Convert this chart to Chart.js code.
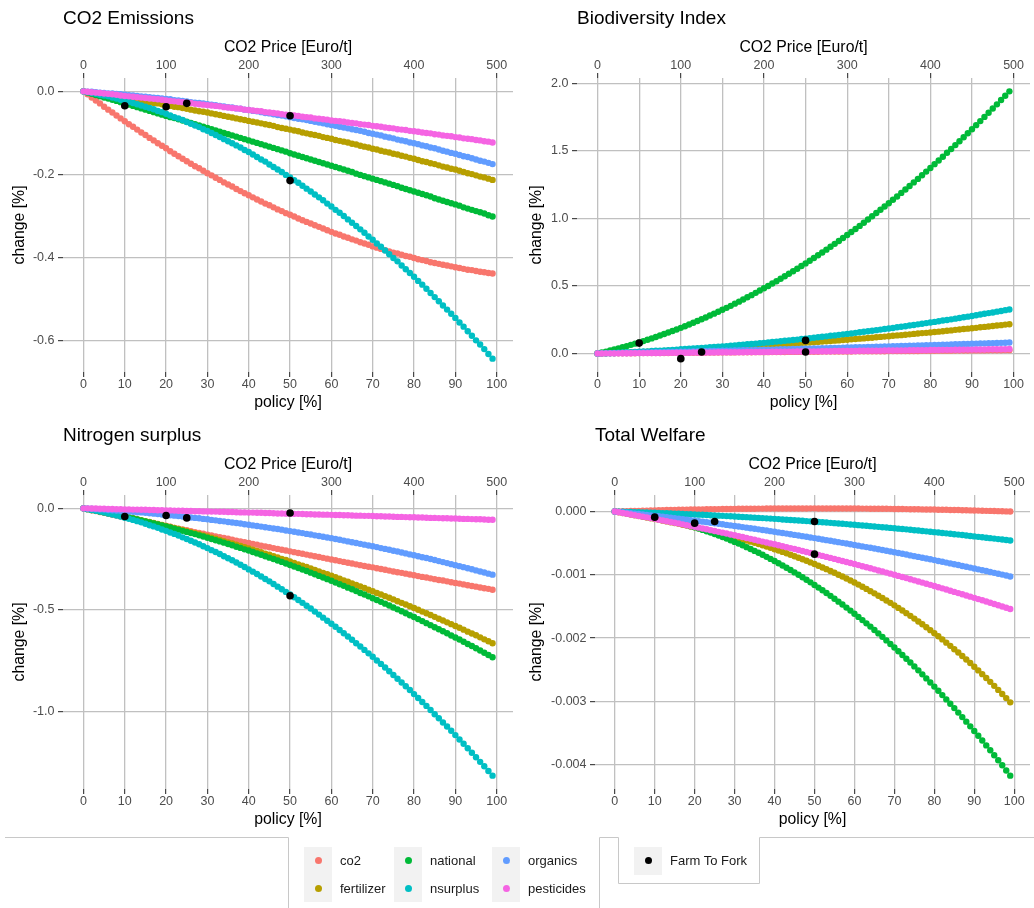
<!DOCTYPE html>
<html>
<head>
<meta charset="utf-8">
<script src="https://cdn.jsdelivr.net/npm/chart.js@4.4.1/dist/chart.umd.min.js"></script>
<style>
  body { margin: 0; background: #fff; font-family: "Liberation Sans", Arial, Helvetica, sans-serif; }
  #page { position: relative; width: 1034px; height: 908px; overflow: hidden; background: #fff; }
  .panel { position: absolute; width: 517px; height: 417px; }
  .key { position: absolute; width: 28px; height: 27.5px; background: #f2f2f2; }
  .dot { position: absolute; width: 7px; height: 7px; border-radius: 50%; left: 10.5px; top: 10.25px; }
  .lab { position: absolute; height: 27.5px; line-height: 27.5px; font-size: 13px; color: #1a1a1a; white-space: nowrap; }
</style>
</head>
<body>
<div id="page">
  <div class="panel" style="left:0;top:0"><canvas id="emissions" width="517" height="417"></canvas></div>
  <div class="panel" style="left:517px;top:0"><canvas id="biodiversity" width="517" height="417"></canvas></div>
  <div class="panel" style="left:0;top:417px"><canvas id="nitrogen" width="517" height="417"></canvas></div>
  <div class="panel" style="left:517px;top:417px"><canvas id="welfare" width="517" height="417"></canvas></div>
  <svg width="1034" height="908" style="position:absolute;left:0;top:0">
    <polyline points="5,837.5 288.5,837.5 288.5,908" fill="none" stroke="#c8c8c8" stroke-width="1"/>
    <polyline points="599.5,908 599.5,837.5 618.5,837.5 618.5,883.5 759.5,883.5 759.5,837.5 1034,837.5" fill="none" stroke="#c8c8c8" stroke-width="1"/>
  </svg>
  <div id="legend"></div>
</div>
<script>
// ---- data ----
const seriesNames = ['co2', 'fertilizer', 'national', 'nsurplus', 'organics', 'pesticides'];
const seriesColors = ['#F8766D', '#B79F00', '#00BA38', '#00BFC4', '#619CFF', '#F564E3'];

// policy [%]
const policy = [
  0, 1, 2, 3, 4, 5, 6, 7, 8, 9,
  10, 11, 12, 13, 14, 15, 16, 17, 18, 19,
  20, 21, 22, 23, 24, 25, 26, 27, 28, 29,
  30, 31, 32, 33, 34, 35, 36, 37, 38, 39,
  40, 41, 42, 43, 44, 45, 46, 47, 48, 49,
  50, 51, 52, 53, 54, 55, 56, 57, 58, 59,
  60, 61, 62, 63, 64, 65, 66, 67, 68, 69,
  70, 71, 72, 73, 74, 75, 76, 77, 78, 79,
  80, 81, 82, 83, 84, 85, 86, 87, 88, 89,
  90, 91, 92, 93, 94, 95, 96, 97, 98, 99
];
const f2fPolicy = [10, 20, 25, 50, 50];
const pricePerPolicy = 5; // 100 % policy = 500 Euro/t

const policyTicks = [0, 10, 20, 30, 40, 50, 60, 70, 80, 90, 100];
const priceTicks = [0, 100, 200, 300, 400, 500];
const emisTicks = [0, -0.2, -0.4, -0.6];
const bioTicks = [0, 0.5, 1, 1.5, 2];
const nitroTicks = [0, -0.5, -1];
const welfTicks = [0, -0.001, -0.002, -0.003, -0.004];

// CO2 Emissions
const emisCo2 = [
  0, -0.007, -0.015, -0.022, -0.029, -0.037, -0.044, -0.051, -0.058, -0.065,
  -0.072, -0.079, -0.085, -0.092, -0.099, -0.105, -0.112, -0.118, -0.125, -0.131,
  -0.137, -0.144, -0.150, -0.156, -0.162, -0.168, -0.174, -0.180, -0.185, -0.191,
  -0.197, -0.202, -0.208, -0.213, -0.219, -0.224, -0.229, -0.235, -0.240, -0.245,
  -0.250, -0.255, -0.260, -0.265, -0.270, -0.274, -0.279, -0.284, -0.288, -0.293,
  -0.297, -0.301, -0.306, -0.310, -0.314, -0.318, -0.322, -0.326, -0.330, -0.334,
  -0.338, -0.342, -0.345, -0.349, -0.352, -0.356, -0.359, -0.363, -0.366, -0.369,
  -0.373, -0.376, -0.379, -0.382, -0.385, -0.388, -0.390, -0.393, -0.396, -0.398,
  -0.401, -0.404, -0.406, -0.408, -0.411, -0.413, -0.415, -0.417, -0.419, -0.421,
  -0.423, -0.425, -0.427, -0.429, -0.430, -0.432, -0.434, -0.435, -0.437, -0.438
];
const emisFert = [
  0, -0.002, -0.003, -0.005, -0.006, -0.008, -0.009, -0.011, -0.013, -0.014,
  -0.016, -0.018, -0.019, -0.021, -0.023, -0.024, -0.026, -0.028, -0.029, -0.031,
  -0.033, -0.035, -0.037, -0.038, -0.040, -0.042, -0.044, -0.046, -0.048, -0.049,
  -0.051, -0.053, -0.055, -0.057, -0.059, -0.061, -0.063, -0.065, -0.067, -0.069,
  -0.071, -0.073, -0.075, -0.077, -0.079, -0.081, -0.083, -0.086, -0.088, -0.090,
  -0.092, -0.094, -0.096, -0.099, -0.101, -0.103, -0.105, -0.107, -0.110, -0.112,
  -0.114, -0.117, -0.119, -0.121, -0.123, -0.126, -0.128, -0.131, -0.133, -0.135,
  -0.138, -0.140, -0.143, -0.145, -0.147, -0.150, -0.152, -0.155, -0.157, -0.160,
  -0.162, -0.165, -0.168, -0.170, -0.173, -0.175, -0.178, -0.181, -0.183, -0.186,
  -0.188, -0.191, -0.194, -0.197, -0.199, -0.202, -0.205, -0.207, -0.210, -0.213
];
const emisNat = [
  0, -0.003, -0.006, -0.009, -0.012, -0.015, -0.017, -0.020, -0.023, -0.026,
  -0.029, -0.032, -0.035, -0.038, -0.041, -0.044, -0.047, -0.050, -0.053, -0.056,
  -0.059, -0.062, -0.064, -0.067, -0.070, -0.073, -0.076, -0.079, -0.082, -0.085,
  -0.088, -0.091, -0.094, -0.097, -0.100, -0.103, -0.106, -0.109, -0.112, -0.115,
  -0.118, -0.121, -0.124, -0.127, -0.130, -0.133, -0.136, -0.139, -0.142, -0.145,
  -0.149, -0.152, -0.155, -0.158, -0.161, -0.164, -0.167, -0.170, -0.173, -0.176,
  -0.179, -0.182, -0.185, -0.188, -0.191, -0.194, -0.198, -0.201, -0.204, -0.207,
  -0.210, -0.213, -0.216, -0.219, -0.222, -0.225, -0.228, -0.232, -0.235, -0.238,
  -0.241, -0.244, -0.247, -0.250, -0.253, -0.257, -0.260, -0.263, -0.266, -0.269,
  -0.272, -0.275, -0.279, -0.282, -0.285, -0.288, -0.291, -0.294, -0.298, -0.301
];
const emisNsur = [
  0, -0.002, -0.004, -0.006, -0.008, -0.010, -0.012, -0.015, -0.017, -0.020,
  -0.022, -0.025, -0.028, -0.031, -0.034, -0.037, -0.040, -0.043, -0.047, -0.050,
  -0.054, -0.058, -0.062, -0.065, -0.069, -0.074, -0.078, -0.082, -0.086, -0.091,
  -0.095, -0.100, -0.105, -0.110, -0.115, -0.120, -0.125, -0.130, -0.135, -0.141,
  -0.146, -0.152, -0.158, -0.164, -0.169, -0.176, -0.182, -0.188, -0.194, -0.201,
  -0.207, -0.214, -0.220, -0.227, -0.234, -0.241, -0.248, -0.255, -0.262, -0.270,
  -0.277, -0.285, -0.292, -0.300, -0.308, -0.316, -0.324, -0.332, -0.340, -0.349,
  -0.357, -0.366, -0.374, -0.383, -0.392, -0.401, -0.409, -0.419, -0.428, -0.437,
  -0.446, -0.456, -0.465, -0.475, -0.485, -0.495, -0.505, -0.515, -0.525, -0.535,
  -0.545, -0.556, -0.566, -0.577, -0.588, -0.599, -0.609, -0.620, -0.632, -0.643
];
const emisOrg = [
  0, -0.001, -0.001, -0.002, -0.003, -0.004, -0.005, -0.005, -0.006, -0.007,
  -0.008, -0.009, -0.010, -0.011, -0.012, -0.013, -0.014, -0.015, -0.016, -0.017,
  -0.018, -0.019, -0.021, -0.022, -0.023, -0.024, -0.026, -0.027, -0.028, -0.029,
  -0.031, -0.032, -0.033, -0.035, -0.036, -0.038, -0.039, -0.041, -0.042, -0.044,
  -0.045, -0.047, -0.048, -0.050, -0.052, -0.053, -0.055, -0.057, -0.058, -0.060,
  -0.062, -0.064, -0.066, -0.067, -0.069, -0.071, -0.073, -0.075, -0.077, -0.079,
  -0.081, -0.083, -0.085, -0.087, -0.089, -0.091, -0.093, -0.095, -0.097, -0.100,
  -0.102, -0.104, -0.106, -0.109, -0.111, -0.113, -0.116, -0.118, -0.120, -0.123,
  -0.125, -0.127, -0.130, -0.132, -0.135, -0.137, -0.140, -0.143, -0.145, -0.148,
  -0.150, -0.153, -0.156, -0.158, -0.161, -0.164, -0.167, -0.169, -0.172, -0.175
];
const emisPest = [
  0, -0.001, -0.002, -0.003, -0.004, -0.005, -0.006, -0.007, -0.008, -0.010,
  -0.011, -0.012, -0.013, -0.014, -0.015, -0.016, -0.017, -0.018, -0.019, -0.020,
  -0.022, -0.023, -0.024, -0.025, -0.026, -0.027, -0.028, -0.030, -0.031, -0.032,
  -0.033, -0.034, -0.035, -0.036, -0.038, -0.039, -0.040, -0.041, -0.042, -0.044,
  -0.045, -0.046, -0.047, -0.048, -0.050, -0.051, -0.052, -0.053, -0.055, -0.056,
  -0.057, -0.058, -0.059, -0.061, -0.062, -0.063, -0.065, -0.066, -0.067, -0.068,
  -0.070, -0.071, -0.072, -0.073, -0.075, -0.076, -0.077, -0.079, -0.080, -0.081,
  -0.083, -0.084, -0.085, -0.087, -0.088, -0.089, -0.091, -0.092, -0.093, -0.095,
  -0.096, -0.097, -0.099, -0.100, -0.101, -0.103, -0.104, -0.106, -0.107, -0.108,
  -0.110, -0.111, -0.113, -0.114, -0.115, -0.117, -0.118, -0.120, -0.121, -0.123
];
const emisF2F = [-0.0345, -0.0369, -0.0288, -0.0585, -0.2147];

// Biodiversity Index
const bioCo2 = [
  0, 0, 0.001, 0.001, 0.001, 0.001, 0.002, 0.002, 0.002, 0.002,
  0.003, 0.003, 0.003, 0.003, 0.004, 0.004, 0.004, 0.004, 0.005, 0.005,
  0.005, 0.005, 0.006, 0.006, 0.006, 0.006, 0.007, 0.007, 0.007, 0.007,
  0.008, 0.008, 0.008, 0.008, 0.009, 0.009, 0.009, 0.009, 0.010, 0.010,
  0.010, 0.010, 0.011, 0.011, 0.011, 0.011, 0.012, 0.012, 0.012, 0.012,
  0.013, 0.013, 0.013, 0.013, 0.014, 0.014, 0.014, 0.014, 0.015, 0.015,
  0.015, 0.015, 0.016, 0.016, 0.016, 0.016, 0.017, 0.017, 0.017, 0.017,
  0.018, 0.018, 0.018, 0.018, 0.019, 0.019, 0.019, 0.019, 0.020, 0.020,
  0.020, 0.020, 0.021, 0.021, 0.021, 0.021, 0.022, 0.022, 0.022, 0.022,
  0.023, 0.023, 0.023, 0.023, 0.024, 0.024, 0.024, 0.024, 0.025, 0.025
];
const bioFert = [
  0, 0.001, 0.002, 0.003, 0.004, 0.005, 0.006, 0.007, 0.008, 0.010,
  0.011, 0.012, 0.013, 0.015, 0.016, 0.017, 0.018, 0.020, 0.021, 0.023,
  0.024, 0.026, 0.027, 0.029, 0.030, 0.032, 0.033, 0.035, 0.037, 0.038,
  0.040, 0.042, 0.043, 0.045, 0.047, 0.049, 0.051, 0.052, 0.054, 0.056,
  0.058, 0.060, 0.062, 0.064, 0.066, 0.068, 0.070, 0.072, 0.075, 0.077,
  0.079, 0.081, 0.083, 0.086, 0.088, 0.090, 0.093, 0.095, 0.097, 0.100,
  0.102, 0.105, 0.107, 0.110, 0.112, 0.115, 0.117, 0.120, 0.123, 0.125,
  0.128, 0.131, 0.134, 0.136, 0.139, 0.142, 0.145, 0.148, 0.151, 0.153,
  0.156, 0.159, 0.162, 0.165, 0.168, 0.171, 0.175, 0.178, 0.181, 0.184,
  0.187, 0.190, 0.194, 0.197, 0.200, 0.204, 0.207, 0.210, 0.214, 0.217
];
const bioNat = [
  0, 0.007, 0.014, 0.022, 0.030, 0.038, 0.046, 0.055, 0.064, 0.073,
  0.082, 0.092, 0.102, 0.112, 0.122, 0.133, 0.144, 0.155, 0.167, 0.178,
  0.190, 0.202, 0.215, 0.228, 0.241, 0.254, 0.267, 0.281, 0.295, 0.309,
  0.324, 0.338, 0.353, 0.369, 0.384, 0.400, 0.416, 0.432, 0.449, 0.466,
  0.483, 0.500, 0.518, 0.535, 0.553, 0.572, 0.590, 0.609, 0.628, 0.648,
  0.667, 0.687, 0.707, 0.728, 0.748, 0.769, 0.790, 0.812, 0.833, 0.855,
  0.877, 0.900, 0.922, 0.945, 0.968, 0.992, 1.016, 1.040, 1.064, 1.088,
  1.113, 1.138, 1.163, 1.189, 1.214, 1.240, 1.267, 1.293, 1.320, 1.347,
  1.374, 1.402, 1.429, 1.457, 1.486, 1.514, 1.543, 1.572, 1.601, 1.631,
  1.661, 1.691, 1.721, 1.752, 1.783, 1.814, 1.845, 1.877, 1.909, 1.941
];
const bioNsur = [
  0, 0.001, 0.002, 0.003, 0.005, 0.006, 0.007, 0.009, 0.010, 0.012,
  0.013, 0.015, 0.016, 0.018, 0.020, 0.021, 0.023, 0.025, 0.027, 0.029,
  0.031, 0.033, 0.035, 0.037, 0.039, 0.041, 0.043, 0.046, 0.048, 0.050,
  0.053, 0.055, 0.058, 0.060, 0.063, 0.065, 0.068, 0.071, 0.073, 0.076,
  0.079, 0.082, 0.085, 0.088, 0.091, 0.094, 0.097, 0.100, 0.103, 0.107,
  0.110, 0.113, 0.117, 0.120, 0.124, 0.127, 0.131, 0.134, 0.138, 0.142,
  0.145, 0.149, 0.153, 0.157, 0.161, 0.165, 0.169, 0.173, 0.177, 0.181,
  0.185, 0.189, 0.194, 0.198, 0.202, 0.207, 0.211, 0.216, 0.220, 0.225,
  0.230, 0.234, 0.239, 0.244, 0.248, 0.253, 0.258, 0.263, 0.268, 0.273,
  0.278, 0.283, 0.289, 0.294, 0.299, 0.304, 0.310, 0.315, 0.321, 0.326
];
const bioOrg = [
  0, 0.001, 0.001, 0.002, 0.002, 0.003, 0.004, 0.004, 0.005, 0.006,
  0.006, 0.007, 0.008, 0.008, 0.009, 0.009, 0.010, 0.011, 0.012, 0.012,
  0.013, 0.014, 0.014, 0.015, 0.016, 0.016, 0.017, 0.018, 0.019, 0.019,
  0.020, 0.021, 0.021, 0.022, 0.023, 0.024, 0.024, 0.025, 0.026, 0.027,
  0.028, 0.028, 0.029, 0.030, 0.031, 0.031, 0.032, 0.033, 0.034, 0.035,
  0.036, 0.036, 0.037, 0.038, 0.039, 0.040, 0.041, 0.041, 0.042, 0.043,
  0.044, 0.045, 0.046, 0.047, 0.047, 0.048, 0.049, 0.050, 0.051, 0.052,
  0.053, 0.054, 0.055, 0.056, 0.056, 0.057, 0.058, 0.059, 0.060, 0.061,
  0.062, 0.063, 0.064, 0.065, 0.066, 0.067, 0.068, 0.069, 0.070, 0.071,
  0.072, 0.073, 0.074, 0.075, 0.076, 0.077, 0.078, 0.079, 0.080, 0.081
];
const bioPest = [
  0, 0, 0.001, 0.001, 0.001, 0.001, 0.002, 0.002, 0.002, 0.003,
  0.003, 0.003, 0.003, 0.004, 0.004, 0.004, 0.005, 0.005, 0.005, 0.006,
  0.006, 0.006, 0.006, 0.007, 0.007, 0.007, 0.008, 0.008, 0.008, 0.009,
  0.009, 0.009, 0.009, 0.010, 0.010, 0.010, 0.011, 0.011, 0.011, 0.012,
  0.012, 0.012, 0.013, 0.013, 0.013, 0.014, 0.014, 0.014, 0.015, 0.015,
  0.015, 0.016, 0.016, 0.016, 0.017, 0.017, 0.017, 0.018, 0.018, 0.018,
  0.019, 0.019, 0.019, 0.020, 0.020, 0.020, 0.021, 0.021, 0.021, 0.022,
  0.022, 0.022, 0.023, 0.023, 0.023, 0.024, 0.024, 0.025, 0.025, 0.025,
  0.026, 0.026, 0.026, 0.027, 0.027, 0.027, 0.028, 0.028, 0.029, 0.029,
  0.029, 0.030, 0.030, 0.030, 0.031, 0.031, 0.031, 0.032, 0.032, 0.033
];
const bioF2F = [0.077, -0.038, 0.011, 0.097, 0.011];

// Nitrogen surplus
const nitroCo2 = [
  0, -0.004, -0.009, -0.013, -0.018, -0.022, -0.026, -0.031, -0.035, -0.040,
  -0.044, -0.048, -0.053, -0.057, -0.061, -0.066, -0.070, -0.074, -0.079, -0.083,
  -0.087, -0.091, -0.096, -0.100, -0.104, -0.108, -0.113, -0.117, -0.121, -0.125,
  -0.130, -0.134, -0.138, -0.142, -0.146, -0.150, -0.155, -0.159, -0.163, -0.167,
  -0.171, -0.175, -0.179, -0.184, -0.188, -0.192, -0.196, -0.200, -0.204, -0.208,
  -0.212, -0.216, -0.220, -0.224, -0.228, -0.232, -0.236, -0.240, -0.244, -0.248,
  -0.252, -0.256, -0.260, -0.264, -0.268, -0.272, -0.276, -0.280, -0.284, -0.288,
  -0.291, -0.295, -0.299, -0.303, -0.307, -0.311, -0.315, -0.318, -0.322, -0.326,
  -0.330, -0.334, -0.338, -0.341, -0.345, -0.349, -0.353, -0.356, -0.360, -0.364,
  -0.368, -0.371, -0.375, -0.379, -0.383, -0.386, -0.390, -0.394, -0.397, -0.401
];
const nitroFert = [
  0, -0.004, -0.008, -0.011, -0.015, -0.019, -0.023, -0.028, -0.032, -0.036,
  -0.040, -0.045, -0.049, -0.054, -0.058, -0.063, -0.067, -0.072, -0.077, -0.082,
  -0.087, -0.092, -0.097, -0.102, -0.107, -0.112, -0.117, -0.123, -0.128, -0.134,
  -0.139, -0.145, -0.150, -0.156, -0.162, -0.168, -0.173, -0.179, -0.185, -0.191,
  -0.198, -0.204, -0.210, -0.216, -0.223, -0.229, -0.236, -0.242, -0.249, -0.255,
  -0.262, -0.269, -0.276, -0.283, -0.289, -0.296, -0.304, -0.311, -0.318, -0.325,
  -0.332, -0.340, -0.347, -0.355, -0.362, -0.370, -0.378, -0.385, -0.393, -0.401,
  -0.409, -0.417, -0.425, -0.433, -0.441, -0.449, -0.458, -0.466, -0.474, -0.483,
  -0.491, -0.500, -0.509, -0.517, -0.526, -0.535, -0.544, -0.553, -0.562, -0.571,
  -0.580, -0.589, -0.598, -0.608, -0.617, -0.626, -0.636, -0.646, -0.655, -0.665
];
const nitroNat = [
  0, -0.004, -0.008, -0.011, -0.015, -0.019, -0.024, -0.028, -0.032, -0.036,
  -0.041, -0.045, -0.050, -0.055, -0.059, -0.064, -0.069, -0.074, -0.079, -0.084,
  -0.089, -0.094, -0.100, -0.105, -0.111, -0.116, -0.122, -0.127, -0.133, -0.139,
  -0.145, -0.151, -0.157, -0.163, -0.169, -0.176, -0.182, -0.189, -0.195, -0.202,
  -0.208, -0.215, -0.222, -0.229, -0.236, -0.243, -0.250, -0.257, -0.264, -0.272,
  -0.279, -0.287, -0.294, -0.302, -0.309, -0.317, -0.325, -0.333, -0.341, -0.349,
  -0.357, -0.366, -0.374, -0.382, -0.391, -0.399, -0.408, -0.417, -0.425, -0.434,
  -0.443, -0.452, -0.461, -0.470, -0.479, -0.489, -0.498, -0.507, -0.517, -0.527,
  -0.536, -0.546, -0.556, -0.566, -0.576, -0.586, -0.596, -0.606, -0.616, -0.627,
  -0.637, -0.647, -0.658, -0.669, -0.679, -0.690, -0.701, -0.712, -0.723, -0.734
];
const nitroNsur = [
  0, -0.004, -0.008, -0.012, -0.016, -0.020, -0.025, -0.030, -0.035, -0.040,
  -0.046, -0.051, -0.057, -0.063, -0.069, -0.076, -0.083, -0.089, -0.096, -0.104,
  -0.111, -0.119, -0.126, -0.134, -0.143, -0.151, -0.160, -0.168, -0.177, -0.187,
  -0.196, -0.206, -0.215, -0.225, -0.236, -0.246, -0.256, -0.267, -0.278, -0.289,
  -0.301, -0.312, -0.324, -0.336, -0.348, -0.360, -0.373, -0.386, -0.399, -0.412,
  -0.425, -0.438, -0.452, -0.466, -0.480, -0.494, -0.509, -0.524, -0.539, -0.554,
  -0.569, -0.584, -0.600, -0.616, -0.632, -0.648, -0.665, -0.681, -0.698, -0.715,
  -0.732, -0.750, -0.767, -0.785, -0.803, -0.822, -0.840, -0.859, -0.877, -0.896,
  -0.916, -0.935, -0.955, -0.974, -0.994, -1.015, -1.035, -1.056, -1.076, -1.097,
  -1.118, -1.140, -1.161, -1.183, -1.205, -1.227, -1.250, -1.272, -1.295, -1.318
];
const nitroOrg = [
  0, -0.001, -0.002, -0.004, -0.005, -0.006, -0.008, -0.009, -0.011, -0.012,
  -0.014, -0.015, -0.017, -0.019, -0.020, -0.022, -0.024, -0.026, -0.028, -0.030,
  -0.032, -0.034, -0.036, -0.038, -0.040, -0.042, -0.045, -0.047, -0.049, -0.052,
  -0.054, -0.057, -0.059, -0.062, -0.064, -0.067, -0.070, -0.072, -0.075, -0.078,
  -0.081, -0.084, -0.087, -0.090, -0.093, -0.096, -0.099, -0.102, -0.105, -0.109,
  -0.112, -0.115, -0.119, -0.122, -0.126, -0.129, -0.133, -0.136, -0.140, -0.144,
  -0.147, -0.151, -0.155, -0.159, -0.163, -0.167, -0.171, -0.175, -0.179, -0.183,
  -0.187, -0.191, -0.196, -0.200, -0.204, -0.209, -0.213, -0.218, -0.222, -0.227,
  -0.231, -0.236, -0.241, -0.245, -0.250, -0.255, -0.260, -0.265, -0.270, -0.275,
  -0.280, -0.285, -0.290, -0.295, -0.300, -0.306, -0.311, -0.316, -0.322, -0.327
];
const nitroPest = [
  0, 0, -0.001, -0.001, -0.002, -0.002, -0.003, -0.003, -0.004, -0.004,
  -0.005, -0.005, -0.006, -0.006, -0.007, -0.007, -0.008, -0.008, -0.009, -0.009,
  -0.010, -0.010, -0.011, -0.012, -0.012, -0.013, -0.013, -0.014, -0.014, -0.015,
  -0.015, -0.016, -0.016, -0.017, -0.017, -0.018, -0.018, -0.019, -0.020, -0.020,
  -0.021, -0.021, -0.022, -0.022, -0.023, -0.023, -0.024, -0.025, -0.025, -0.026,
  -0.026, -0.027, -0.027, -0.028, -0.029, -0.029, -0.030, -0.030, -0.031, -0.031,
  -0.032, -0.033, -0.033, -0.034, -0.034, -0.035, -0.036, -0.036, -0.037, -0.037,
  -0.038, -0.039, -0.039, -0.040, -0.040, -0.041, -0.042, -0.042, -0.043, -0.044,
  -0.044, -0.045, -0.045, -0.046, -0.047, -0.047, -0.048, -0.049, -0.049, -0.050,
  -0.050, -0.051, -0.052, -0.052, -0.053, -0.054, -0.054, -0.055, -0.056, -0.056
];
const nitroF2F = [-0.040, -0.035, -0.047, -0.023, -0.431];

// Total Welfare
const welfCo2 = [
  0, 2e-6, 4e-6, 6e-6, 8e-6, 10e-6, 11e-6, 13e-6, 15e-6, 16e-6,
  18e-6, 20e-6, 21e-6, 23e-6, 24e-6, 25e-6, 27e-6, 28e-6, 29e-6, 31e-6,
  32e-6, 33e-6, 34e-6, 35e-6, 36e-6, 37e-6, 38e-6, 39e-6, 40e-6, 41e-6,
  42e-6, 43e-6, 43e-6, 44e-6, 45e-6, 45e-6, 46e-6, 46e-6, 47e-6, 47e-6,
  48e-6, 48e-6, 48e-6, 49e-6, 49e-6, 49e-6, 49e-6, 49e-6, 49e-6, 50e-6,
  50e-6, 49e-6, 49e-6, 49e-6, 49e-6, 49e-6, 49e-6, 48e-6, 48e-6, 48e-6,
  47e-6, 47e-6, 46e-6, 46e-6, 45e-6, 45e-6, 44e-6, 43e-6, 43e-6, 42e-6,
  41e-6, 40e-6, 39e-6, 38e-6, 37e-6, 36e-6, 35e-6, 34e-6, 33e-6, 32e-6,
  31e-6, 29e-6, 28e-6, 27e-6, 25e-6, 24e-6, 23e-6, 21e-6, 20e-6, 18e-6,
  16e-6, 15e-6, 13e-6, 11e-6, 10e-6, 8e-6, 6e-6, 4e-6, 2e-6, 0
];
const welfFert = [
  0, -12e-6, -23e-6, -35e-6, -47e-6, -58e-6, -70e-6, -82e-6, -94e-6, -106e-6,
  -119e-6, -131e-6, -144e-6, -156e-6, -169e-6, -182e-6, -195e-6, -209e-6, -222e-6, -236e-6,
  -250e-6, -264e-6, -279e-6, -293e-6, -308e-6, -324e-6, -339e-6, -355e-6, -371e-6, -388e-6,
  -405e-6, -422e-6, -440e-6, -458e-6, -476e-6, -495e-6, -514e-6, -533e-6, -553e-6, -574e-6,
  -595e-6, -616e-6, -638e-6, -660e-6, -683e-6, -706e-6, -730e-6, -754e-6, -779e-6, -804e-6,
  -830e-6, -856e-6, -884e-6, -911e-6, -939e-6, -968e-6, -998e-6, -1028e-6, -1059e-6, -1090e-6,
  -1122e-6, -1155e-6, -1189e-6, -1223e-6, -1258e-6, -1293e-6, -1330e-6, -1367e-6, -1405e-6, -1443e-6,
  -1483e-6, -1523e-6, -1564e-6, -1606e-6, -1649e-6, -1692e-6, -1737e-6, -1782e-6, -1828e-6, -1875e-6,
  -1923e-6, -1971e-6, -2021e-6, -2072e-6, -2123e-6, -2176e-6, -2229e-6, -2283e-6, -2339e-6, -2395e-6,
  -2453e-6, -2511e-6, -2570e-6, -2631e-6, -2692e-6, -2755e-6, -2819e-6, -2883e-6, -2949e-6, -3016e-6
];
const welfNat = [
  0, -6e-6, -13e-6, -20e-6, -28e-6, -37e-6, -46e-6, -57e-6, -67e-6, -79e-6,
  -91e-6, -104e-6, -117e-6, -131e-6, -146e-6, -162e-6, -178e-6, -195e-6, -213e-6, -231e-6,
  -250e-6, -270e-6, -290e-6, -311e-6, -333e-6, -356e-6, -379e-6, -403e-6, -428e-6, -453e-6,
  -480e-6, -507e-6, -534e-6, -563e-6, -592e-6, -622e-6, -652e-6, -684e-6, -716e-6, -749e-6,
  -782e-6, -817e-6, -852e-6, -888e-6, -924e-6, -962e-6, -1000e-6, -1039e-6, -1078e-6, -1119e-6,
  -1160e-6, -1202e-6, -1245e-6, -1288e-6, -1333e-6, -1378e-6, -1424e-6, -1470e-6, -1518e-6, -1566e-6,
  -1615e-6, -1665e-6, -1716e-6, -1767e-6, -1819e-6, -1873e-6, -1926e-6, -1981e-6, -2037e-6, -2093e-6,
  -2150e-6, -2208e-6, -2267e-6, -2327e-6, -2387e-6, -2448e-6, -2510e-6, -2573e-6, -2637e-6, -2702e-6,
  -2767e-6, -2833e-6, -2901e-6, -2969e-6, -3037e-6, -3107e-6, -3178e-6, -3249e-6, -3321e-6, -3395e-6,
  -3469e-6, -3543e-6, -3619e-6, -3696e-6, -3773e-6, -3852e-6, -3931e-6, -4011e-6, -4092e-6, -4174e-6
];
const welfNsur = [
  0, -2e-6, -4e-6, -5e-6, -7e-6, -9e-6, -12e-6, -14e-6, -16e-6, -18e-6,
  -20e-6, -23e-6, -25e-6, -28e-6, -30e-6, -33e-6, -35e-6, -38e-6, -41e-6, -44e-6,
  -47e-6, -49e-6, -52e-6, -56e-6, -59e-6, -62e-6, -65e-6, -68e-6, -72e-6, -75e-6,
  -79e-6, -82e-6, -86e-6, -89e-6, -93e-6, -97e-6, -101e-6, -104e-6, -108e-6, -112e-6,
  -116e-6, -120e-6, -125e-6, -129e-6, -133e-6, -137e-6, -142e-6, -146e-6, -151e-6, -155e-6,
  -160e-6, -165e-6, -169e-6, -174e-6, -179e-6, -184e-6, -189e-6, -194e-6, -199e-6, -204e-6,
  -209e-6, -215e-6, -220e-6, -225e-6, -231e-6, -236e-6, -242e-6, -248e-6, -253e-6, -259e-6,
  -265e-6, -271e-6, -276e-6, -282e-6, -288e-6, -295e-6, -301e-6, -307e-6, -313e-6, -319e-6,
  -326e-6, -332e-6, -339e-6, -345e-6, -352e-6, -359e-6, -365e-6, -372e-6, -379e-6, -386e-6,
  -393e-6, -400e-6, -407e-6, -414e-6, -421e-6, -428e-6, -436e-6, -443e-6, -450e-6, -458e-6
];
const welfOrg = [
  0, -6e-6, -13e-6, -20e-6, -26e-6, -33e-6, -40e-6, -47e-6, -54e-6, -61e-6,
  -68e-6, -75e-6, -83e-6, -90e-6, -97e-6, -105e-6, -113e-6, -120e-6, -128e-6, -136e-6,
  -144e-6, -152e-6, -160e-6, -168e-6, -177e-6, -185e-6, -193e-6, -202e-6, -211e-6, -219e-6,
  -228e-6, -237e-6, -246e-6, -255e-6, -264e-6, -273e-6, -282e-6, -292e-6, -301e-6, -310e-6,
  -320e-6, -330e-6, -339e-6, -349e-6, -359e-6, -369e-6, -379e-6, -389e-6, -399e-6, -410e-6,
  -420e-6, -430e-6, -441e-6, -452e-6, -462e-6, -473e-6, -484e-6, -495e-6, -506e-6, -517e-6,
  -528e-6, -539e-6, -551e-6, -562e-6, -573e-6, -585e-6, -597e-6, -608e-6, -620e-6, -632e-6,
  -644e-6, -656e-6, -668e-6, -680e-6, -693e-6, -705e-6, -717e-6, -730e-6, -743e-6, -755e-6,
  -768e-6, -781e-6, -794e-6, -807e-6, -820e-6, -833e-6, -846e-6, -860e-6, -873e-6, -886e-6,
  -900e-6, -914e-6, -927e-6, -941e-6, -955e-6, -969e-6, -983e-6, -997e-6, -1011e-6, -1026e-6
];
const welfPest = [
  0, -11e-6, -23e-6, -34e-6, -46e-6, -57e-6, -69e-6, -81e-6, -92e-6, -104e-6,
  -116e-6, -129e-6, -141e-6, -153e-6, -165e-6, -178e-6, -190e-6, -203e-6, -216e-6, -229e-6,
  -242e-6, -255e-6, -268e-6, -281e-6, -294e-6, -308e-6, -321e-6, -334e-6, -348e-6, -362e-6,
  -376e-6, -389e-6, -403e-6, -418e-6, -432e-6, -446e-6, -460e-6, -475e-6, -489e-6, -504e-6,
  -518e-6, -533e-6, -548e-6, -563e-6, -578e-6, -593e-6, -608e-6, -624e-6, -639e-6, -654e-6,
  -670e-6, -686e-6, -701e-6, -717e-6, -733e-6, -749e-6, -765e-6, -781e-6, -798e-6, -814e-6,
  -830e-6, -847e-6, -864e-6, -880e-6, -897e-6, -914e-6, -931e-6, -948e-6, -965e-6, -982e-6,
  -1000e-6, -1017e-6, -1034e-6, -1052e-6, -1070e-6, -1088e-6, -1105e-6, -1123e-6, -1141e-6, -1159e-6,
  -1178e-6, -1196e-6, -1214e-6, -1233e-6, -1251e-6, -1270e-6, -1289e-6, -1307e-6, -1326e-6, -1345e-6,
  -1364e-6, -1384e-6, -1403e-6, -1422e-6, -1442e-6, -1461e-6, -1481e-6, -1500e-6, -1520e-6, -1540e-6
];
const welfF2F = [-89e-6, -184e-6, -158e-6, -158e-6, -674e-6];

// ---- style ----
Chart.defaults.font.family = '"Liberation Sans", Arial, Helvetica, sans-serif';
const gridColor = '#c0c0c0';
const tickMarkColor = '#333333';
const tickLabelColor = '#4d4d4d';
const tickFont = { size: 12.5 };
const axisTitleFont = { size: 15.8 };

// ggplot-like 5% expansion of a range
function expanded(lo, hi) {
  const d = (hi - lo) * 0.05;
  return [lo - d, hi + d];
}

function fixedTicks(values) {
  return axis => { axis.ticks = values.map(v => ({ value: v })); };
}

function facet(canvasId, title, series, f2f, yTicks, digits, yWidth, padRight) {
  const all = series.flat().concat(f2f);
  const [yMin, yMax] = expanded(Math.min(...all), Math.max(...all));
  const [xMin, xMax] = expanded(policy[0], policy[policy.length - 1]);

  const datasets = seriesNames.map((name, i) => ({
    label: name,
    data: policy.map((p, j) => ({ x: p, y: series[i][j] })),
    pointBackgroundColor: seriesColors[i],
    pointBorderWidth: 0,
    pointRadius: 3.2,
    order: seriesNames.length - i
  }));
  datasets.push({
    label: 'Farm To Fork',
    data: f2fPolicy.map((p, j) => ({ x: p, y: f2f[j] })),
    pointBackgroundColor: '#000000',
    pointBorderWidth: 0,
    pointRadius: 3.8,
    order: 0
  });

  const gridBase = { color: gridColor, lineWidth: 1.3, tickColor: tickMarkColor, tickWidth: 1.1, tickLength: 5 };
  const tickBase = { font: tickFont, color: tickLabelColor, autoSkip: false, maxRotation: 0, minRotation: 0 };

  return new Chart(document.getElementById(canvasId), {
    type: 'scatter',
    data: { datasets },
    options: {
      responsive: false,
      animation: false,
      events: [],
      layout: { padding: { left: 0, right: padRight, top: 0, bottom: 0 } },
      plugins: {
        legend: { display: false },
        tooltip: { enabled: false },
        title: {
          display: true,
          text: title,
          align: 'start',
          fullSize: false,
          color: '#000000',
          font: { size: 19, weight: 'normal' },
          padding: { top: 7.8, bottom: 0 }
        }
      },
      scales: {
        x: {
          type: 'linear',
          position: 'bottom',
          min: xMin,
          max: xMax,
          afterBuildTicks: fixedTicks(policyTicks),
          afterFit: axis => { axis.height = 45; },
          ticks: { ...tickBase, padding: 0.5, callback: v => String(v) },
          grid: { ...gridBase },
          border: { display: false },
          title: { display: true, text: 'policy [%]', color: '#000000', font: axisTitleFont, padding: { top: 0, bottom: 4.5 } }
        },
        x2: {
          type: 'linear',
          position: 'top',
          min: xMin * pricePerPolicy,
          max: xMax * pricePerPolicy,
          afterBuildTicks: fixedTicks(priceTicks),
          afterFit: axis => { axis.height = 47.4; },
          ticks: { ...tickBase, padding: 0, callback: v => String(v) },
          grid: { ...gridBase, drawOnChartArea: false },
          border: { display: false },
          title: { display: true, text: 'CO2 Price [Euro/t]', color: '#000000', font: axisTitleFont, padding: { top: 7.9, bottom: 0 } }
        },
        y: {
          type: 'linear',
          position: 'left',
          min: yMin,
          max: yMax,
          afterBuildTicks: fixedTicks(yTicks),
          afterFit: axis => { axis.width = yWidth; },
          ticks: { font: tickFont, color: tickLabelColor, padding: 3.5, autoSkip: false, callback: v => v.toFixed(digits) },
          grid: { ...gridBase },
          border: { display: false },
          title: { display: true, text: 'change [%]', color: '#000000', font: axisTitleFont, padding: { top: 10.6, bottom: 0 } }
        }
      }
    }
  });
}

facet('emissions', 'CO2 Emissions',
  [emisCo2, emisFert, emisNat, emisNsur, emisOrg, emisPest], emisF2F, emisTicks, 1, 63, 2);
facet('biodiversity', 'Biodiversity Index',
  [bioCo2, bioFert, bioNat, bioNsur, bioOrg, bioPest], bioF2F, bioTicks, 1, 60, 1);
facet('nitrogen', 'Nitrogen surplus',
  [nitroCo2, nitroFert, nitroNat, nitroNsur, nitroOrg, nitroPest], nitroF2F, nitroTicks, 1, 63, 2);
facet('welfare', 'Total Welfare',
  [welfCo2, welfFert, welfNat, welfNsur, welfOrg, welfPest], welfF2F, welfTicks, 3, 78, 1);

// ---- legend ----
const legend = document.getElementById('legend');
const legendCols = [304, 394, 492];
const legendTop = 847;
const keyH = 27.5;

function addKey(left, top, color, text) {
  const key = document.createElement('div');
  key.className = 'key';
  key.style.left = left + 'px';
  key.style.top = top + 'px';
  const dot = document.createElement('div');
  dot.className = 'dot';
  dot.style.background = color;
  key.appendChild(dot);
  legend.appendChild(key);
  const lab = document.createElement('div');
  lab.className = 'lab';
  lab.style.left = (left + 36) + 'px';
  lab.style.top = top + 'px';
  lab.textContent = text;
  legend.appendChild(lab);
}

seriesNames.forEach((name, i) => {
  addKey(legendCols[Math.floor(i / 2)], legendTop + (i % 2) * keyH, seriesColors[i], name);
});
addKey(634, legendTop, '#000000', 'Farm To Fork');
</script>
</body>
</html>
